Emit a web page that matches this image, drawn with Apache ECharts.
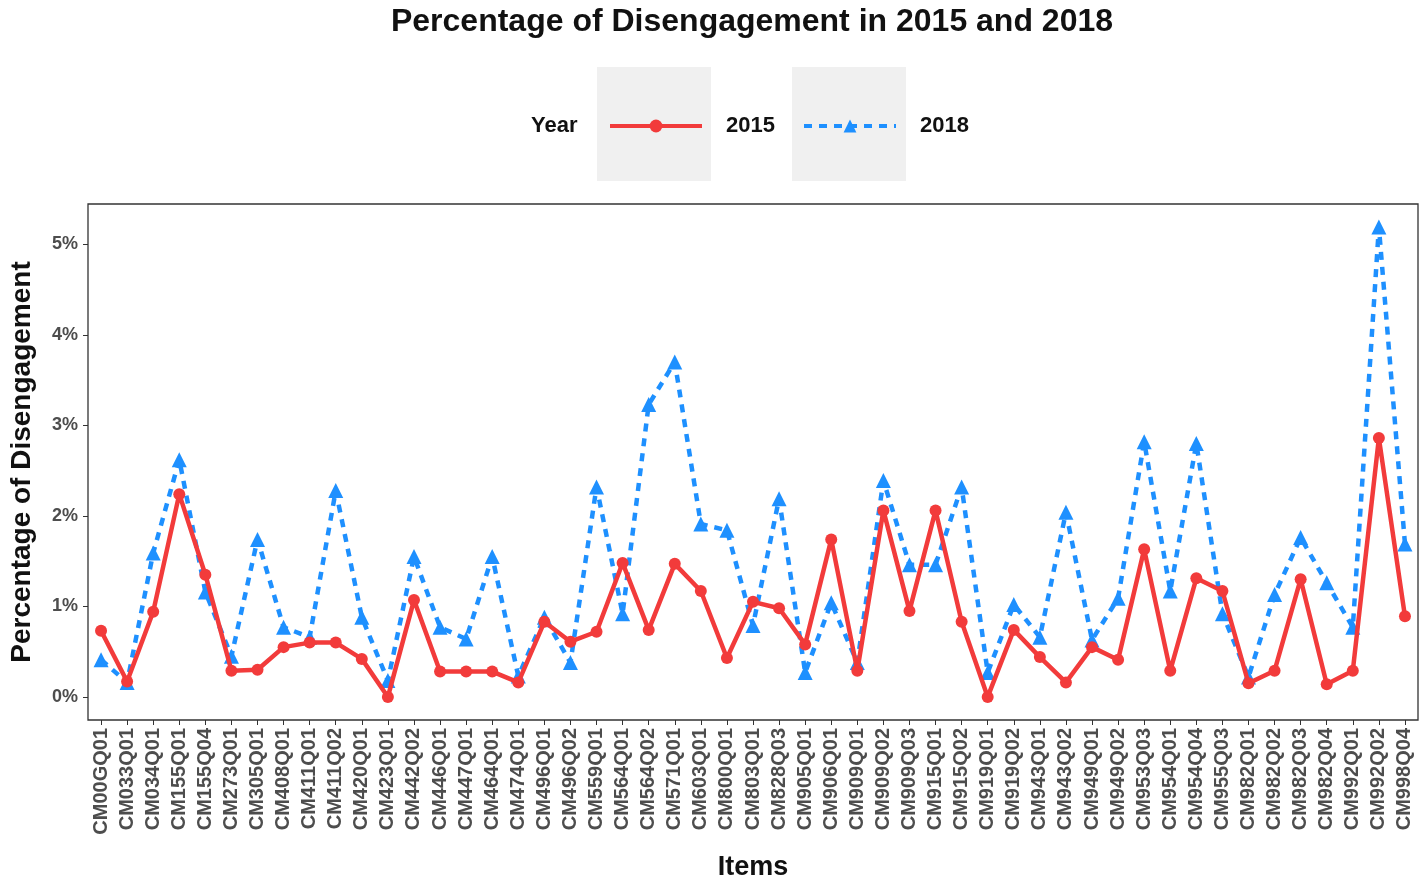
<!DOCTYPE html>
<html>
<head>
<meta charset="utf-8">
<script src="https://cdn.jsdelivr.net/npm/echarts@6/dist/echarts.min.js"></script>
<style>
html,body{margin:0;padding:0;background:#fff;}
#chart{width:1428px;height:886px;}
</style>
</head>
<body>
<div id="chart"></div>
<script>
const items = ['CM00GQ01','CM033Q01','CM034Q01','CM155Q01','CM155Q04','CM273Q01','CM305Q01','CM408Q01','CM411Q01','CM411Q02','CM420Q01','CM423Q01','CM442Q02','CM446Q01','CM447Q01','CM464Q01','CM474Q01','CM496Q01','CM496Q02','CM559Q01','CM564Q01','CM564Q02','CM571Q01','CM603Q01','CM800Q01','CM803Q01','CM828Q03','CM905Q01','CM906Q01','CM909Q01','CM909Q02','CM909Q03','CM915Q01','CM915Q02','CM919Q01','CM919Q02','CM943Q01','CM943Q02','CM949Q01','CM949Q02','CM953Q03','CM954Q01','CM954Q04','CM955Q03','CM982Q01','CM982Q02','CM982Q03','CM982Q04','CM992Q01','CM992Q02','CM998Q04'];

const values2015 = [0.73,0.17,0.94,2.24,1.35,0.29,0.30,0.55,0.60,0.60,0.42,0.00,1.07,0.28,0.28,0.28,0.16,0.83,0.61,0.72,1.48,0.74,1.47,1.17,0.43,1.05,0.98,0.58,1.74,0.29,2.06,0.95,2.06,0.83,0.00,0.74,0.44,0.16,0.55,0.41,1.63,0.29,1.31,1.17,0.15,0.29,1.30,0.14,0.29,2.86,0.89];

const values2018 = [0.41,0.16,1.59,2.62,1.16,0.45,1.74,0.77,0.66,2.28,0.88,0.18,1.55,0.77,0.64,1.55,0.23,0.88,0.38,2.32,0.92,3.23,3.70,1.91,1.84,0.79,2.19,0.27,1.04,0.38,2.39,1.46,1.46,2.32,0.27,1.02,0.66,2.04,0.63,1.09,2.82,1.17,2.80,0.92,0.22,1.13,1.76,1.26,0.77,5.19,1.69];

const yTicks = [0,1,2,3,4,5];

const RED = '#F23B3B';
const BLUE = '#1E90FF';
const FONT = '"Liberation Sans", Arial, sans-serif';

const chart = echarts.init(document.getElementById('chart'), null, {renderer:'canvas'});

const legendCommon = {
  orient:'horizontal', padding:0, itemWidth:92, itemHeight:16, itemGap:0,
  top:115, selectedMode:false,
  lineStyle:{width:4},
  textStyle:{fontFamily:FONT, fontWeight:'bold', fontSize:22, color:'#111', padding:[0,0,0,19]}
};

chart.setOption({
  animation:false,
  backgroundColor:'#ffffff',
  title:{
    text:'Percentage of Disengagement in 2015 and 2018',
    left:752, top:6, padding:0, textAlign:'center',
    textStyle:{fontFamily:FONT, fontWeight:'bold', fontSize:32, color:'#111'}
  },
  graphic:[
    {type:'rect', shape:{x:597,y:67,width:114,height:114}, style:{fill:'#F0F0F0'}, z:-10, silent:true},
    {type:'rect', shape:{x:792,y:67,width:114,height:114}, style:{fill:'#F0F0F0'}, z:-10, silent:true},
    {type:'text', x:531, y:126, style:{text:'Year', fontFamily:FONT, fontWeight:'bold', fontSize:22, fill:'#111', textVerticalAlign:'middle'}, silent:true}
  ],
  legend:[
    Object.assign({}, legendCommon, {left:608, data:['2015']}),
    Object.assign({}, legendCommon, {left:802, data:['2018']})
  ],
  grid:{left:88, top:204, width:1330, height:516, show:true, borderColor:'#333', borderWidth:1.3, backgroundColor:'#fff', containLabel:false},
  xAxis:{
    type:'category', data:items, boundaryGap:true,
    name:'Items', nameLocation:'middle', nameGap:134,
    nameTextStyle:{fontFamily:FONT, fontWeight:'bold', fontSize:27, color:'#111'},
    axisLine:{show:false, onZero:false},
    axisTick:{show:true, alignWithLabel:true, length:5, lineStyle:{color:'#333'}},
    axisLabel:{interval:0, rotate:90, margin:8, fontFamily:FONT, fontWeight:'bold', fontSize:20, color:'#4D4D4D'},
    splitLine:{show:false}
  },
  yAxis:{
    type:'value', min:-0.255, max:5.445,
    name:'Percentage of Disengagement', nameLocation:'middle', nameGap:52,
    nameTextStyle:{fontFamily:FONT, fontWeight:'bold', fontSize:28, color:'#111'},
    axisLine:{show:false, onZero:false},
    axisTick:{show:true, length:5, customValues:yTicks, lineStyle:{color:'#333'}},
    axisLabel:{customValues:yTicks, margin:10, fontFamily:FONT, fontWeight:'bold', fontSize:18, color:'#4D4D4D', formatter:v=>v+'%'},
    splitLine:{show:false}
  },
  series:[
    {
      name:'2018', type:'line', data:values2018, z:2,
      symbol:'triangle', symbolSize:15,
      lineStyle:{color:BLUE, width:4.5, type:[8,7]},
      itemStyle:{color:BLUE}
    },
    {
      name:'2015', type:'line', data:values2015, z:3,
      symbol:'circle', symbolSize:12,
      lineStyle:{color:RED, width:4.5, type:'solid'},
      itemStyle:{color:RED}
    }
  ]
});
</script>
</body>
</html>
